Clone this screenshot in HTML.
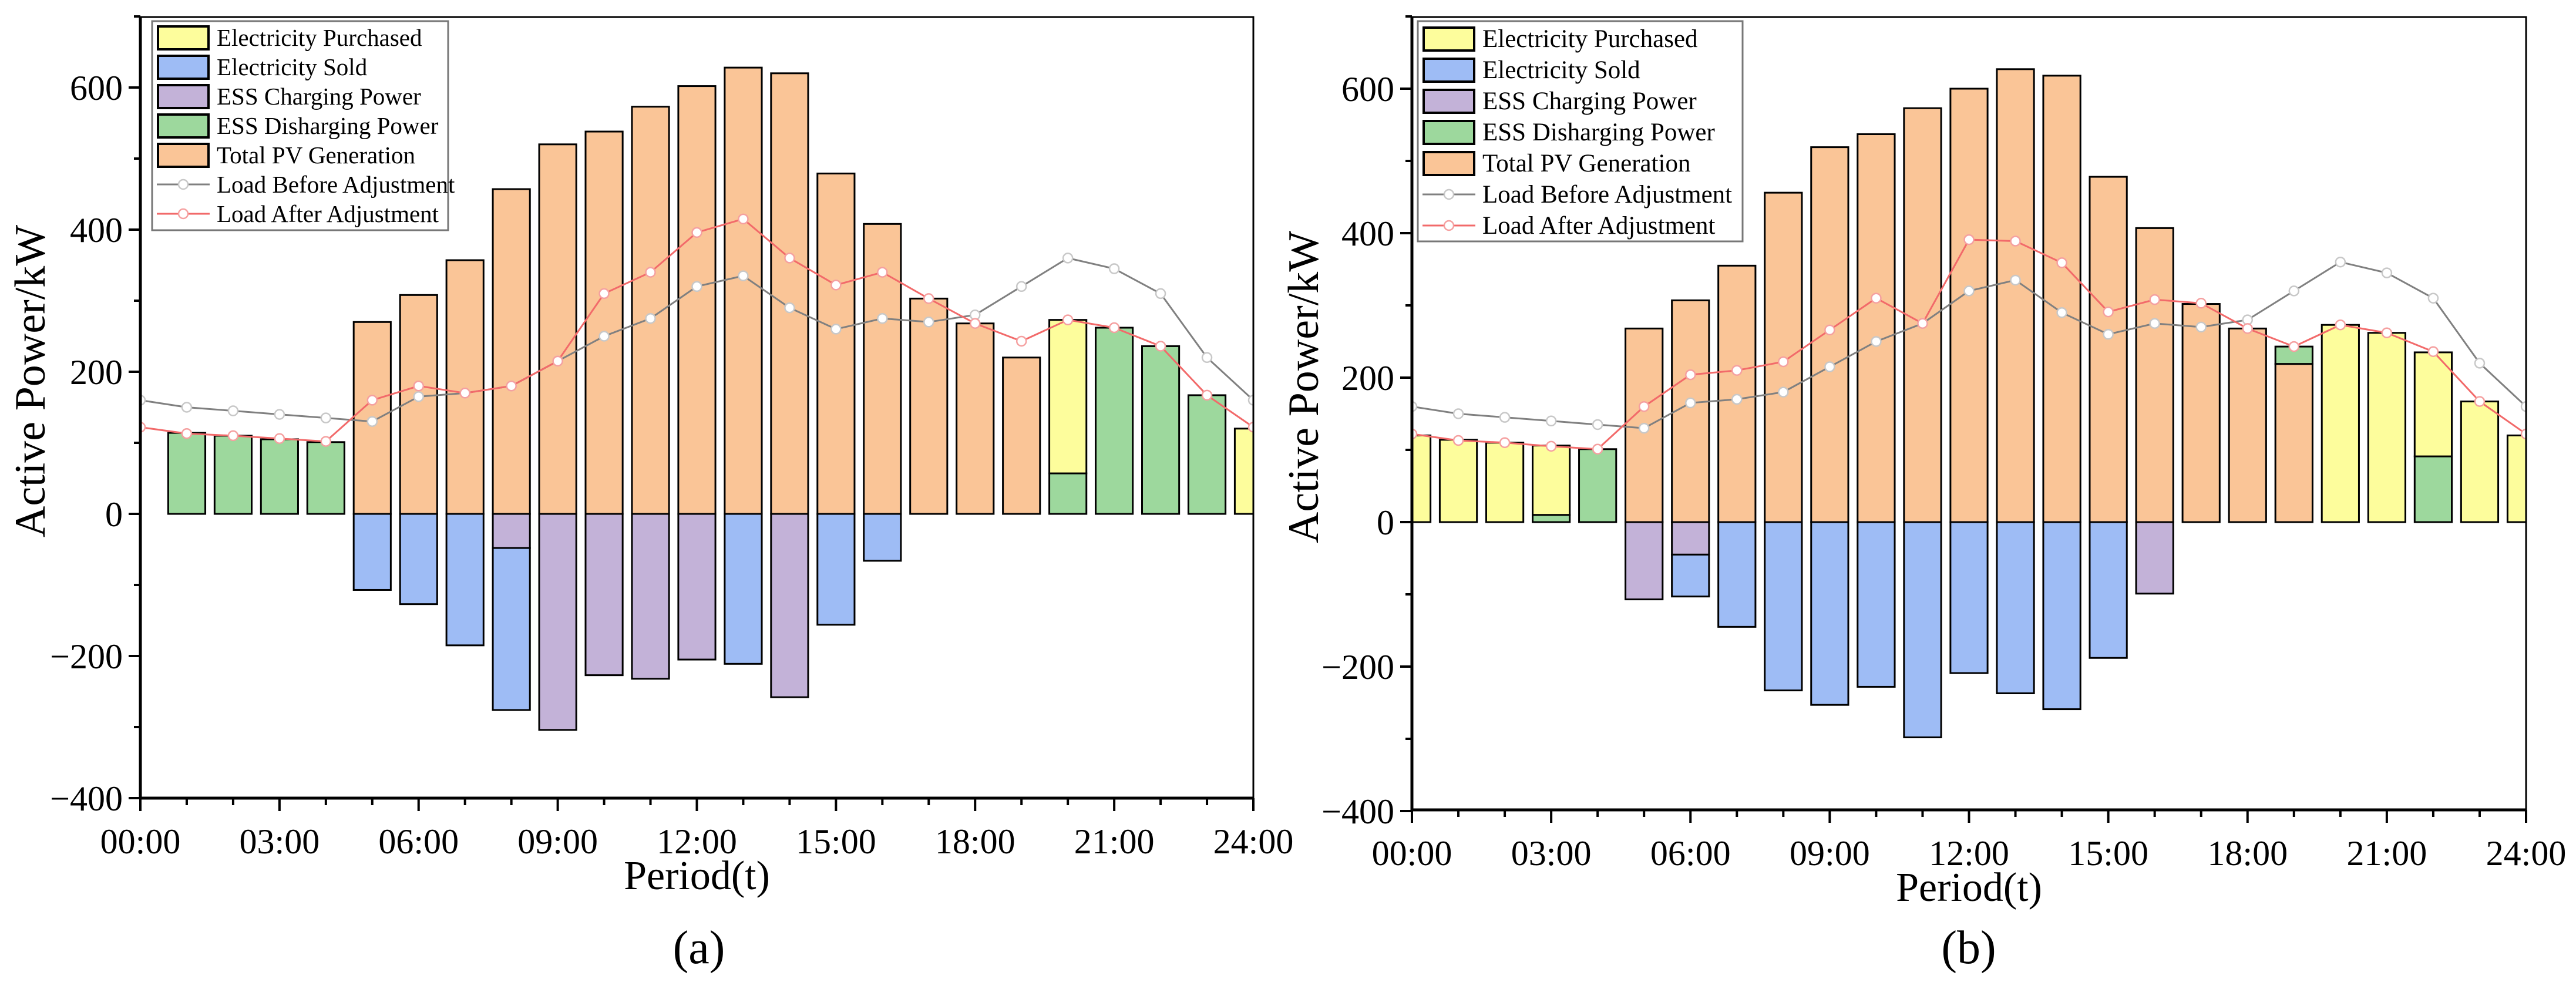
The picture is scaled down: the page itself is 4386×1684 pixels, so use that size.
<!DOCTYPE html>
<html><head><meta charset="utf-8"><style>
html,body{margin:0;padding:0;background:#fff;}
svg{display:block;font-family:"Liberation Serif",serif;}
</style></head><body>
<svg id="fig" width="4386" height="1684" viewBox="0 0 4386 1684" xmlns="http://www.w3.org/2000/svg"></svg>
<script>
// ---- shared data ----
const hours = [0,1,2,3,4,5,6,7,8,9,10,11,12,13,14,15,16,17,18,19,20,21,22,23,24];
const xTickLabels = ["00:00","03:00","06:00","09:00","12:00","15:00","18:00","21:00","24:00"];
const yTickValues = [-400,-200,0,200,400,600];
const loadBefore = [160,150,145,140,135,130,165,170,180,215,250,275,320,335,290,260,275,270,280,320,360,345,310,220,160];

// ---- chart (a) data ----
const aPV        = [0,0,0,0,0,270,308,357,457,520,538,573,602,628,620,479,408,303,268,220,0,0,0,0,0];
const aDischarge = [0,114,110,105,101,0,0,0,0,0,0,0,0,0,0,0,0,0,0,0,57,262,236,167,0];
const aPurchased = [0,0,0,0,0,0,0,0,0,0,0,0,0,0,0,0,0,0,0,0,216,0,0,0,120];
const aCharge    = [0,0,0,0,0,0,0,0,-48,-304,-227,-232,-205,0,-258,0,0,0,0,0,0,0,0,0,0];
const aSold      = [0,0,0,0,0,-107,-127,-185,-228,0,0,0,0,-211,0,-156,-66,0,0,0,0,0,0,0,0];
const aLoadAfter = [122,113,110,106,102,160,180,170,180,215,310,340,396,415,360,322,340,303,268,243,273,262,236,167,122];

// ---- chart (b) data ----
const bPV        = [0,0,0,0,0,268,307,355,456,519,537,573,600,627,618,478,407,302,268,219,0,0,0,0,0];
const bDischarge = [0,0,0,10,101,0,0,0,0,0,0,0,0,0,0,0,0,0,0,24,0,0,91,0,0];
const bPurchased = [120,114,110,96,0,0,0,0,0,0,0,0,0,0,0,0,0,0,0,0,273,262,144,167,120];
const bCharge    = [0,0,0,0,0,-107,-45,0,0,0,0,0,0,0,0,0,-99,0,0,0,0,0,0,0,0];
const bSold      = [0,0,0,0,0,0,-58,-145,-233,-253,-228,-298,-209,-237,-259,-188,0,0,0,0,0,0,0,0,0];
const bLoadAfter = [122,113,110,105,101,160,204,210,222,266,310,275,391,389,359,291,308,303,268,243,273,262,236,167,122];

const legendLabels = ["Electricity Purchased","Electricity Sold","ESS Charging Power","ESS Disharging Power","Total PV Generation","Load Before Adjustment","Load After Adjustment"];
const C = {pur:"#fdfd9c",sold:"#9ebcf5",chg:"#c3b2d8",dis:"#9dd89d",pv:"#fac597",gray:"#808080",red:"#f26a6a"};

const NS="http://www.w3.org/2000/svg";
const svg=document.getElementById('fig');
function mk(tag,attrs,parent){const e=document.createElementNS(NS,tag);for(const k in attrs)e.setAttribute(k,attrs[k]);(parent||svg).appendChild(e);return e;}

function drawChart(id,box,d){
  const g=mk('g',{});
  
  
  const X=h=>box.x0+(h/24)*(box.x1-box.x0);
  const Y=v=>box.zero-v*box.k;
  const step=(box.x1-box.x0)/24, bw=step*0.8;
  const cp=mk('clipPath',{id:'clip'+id},g);
  mk('rect',{x:box.x0,y:box.y0,width:box.x1-box.x0,height:box.y1-box.y0},cp);
  const bars=mk('g',{'clip-path':'url(#clip'+id+')'},g);
  
  
  function bar(h,v0,v1,fill,name){
    if(v1===v0)return;
    const r=mk('rect',{x:X(h)-bw/2,y:Math.min(Y(v0),Y(v1)),width:bw,height:Math.abs(Y(v1)-Y(v0)),fill:fill,stroke:'#000','stroke-width':3},bars);
    
    
  }
  hours.forEach((h,i)=>{
    if(h===0 && !d.hasZero)return;
    let b=0;
    bar(h,b,b+d.pv[i],C.pv,'pv');b+=d.pv[i];
    bar(h,b,b+d.dis[i],C.dis,'discharge');b+=d.dis[i];
    bar(h,b,b+d.pur[i],C.pur,'purchased');
    let n=0;
    bar(h,n,n+d.chg[i],C.chg,'charge');n+=d.chg[i];
    bar(h,n,n+d.sold[i],C.sold,'sold');
  });
  function line(vals,color,name){
    const pts=hours.map((h,i)=>X(h)+','+Y(vals[i])).join(' ');
    const l=mk('polyline',{points:pts,fill:'none',stroke:color,'stroke-width':3},bars);
    
    
    hours.forEach((h,i)=>{
      const c=mk('circle',{cx:X(h),cy:Y(vals[i]),r:8,fill:'#fff',stroke:color==C.red?'#f5a0a0':'#c8c8c8','stroke-width':2.5},bars);
      
      
    });
  }
  line(loadBefore,C.gray,'load-before-line');
  line(d.after,C.red,'load-after-line');
  // frame
  mk('rect',{x:box.x0,y:box.y0,width:box.x1-box.x0,height:box.y1-box.y0,fill:'none',stroke:'#000','stroke-width':3},g);
  mk('line',{x1:box.x0,y1:box.y0,x2:box.x0,y2:box.y1,stroke:'#000','stroke-width':5},g);
  mk('line',{x1:box.x0,y1:box.y1,x2:box.x1,y2:box.y1,stroke:'#000','stroke-width':5},g);
  // y ticks
  for(let v=-400;v<=700;v+=100){
    const major=yTickValues.includes(v);
    mk('line',{x1:box.x0-(major?20:11),y1:Y(v),x2:box.x0,y2:Y(v),stroke:'#000','stroke-width':4},g);
  }
  yTickValues.forEach(v=>{
    const t=mk('text',{x:box.x0-30,y:Y(v)+21,'font-size':60,'text-anchor':'end',fill:'#000'},g);
    t.textContent=(v<0?'\u2212':'')+Math.abs(v);
    
    
  });
  // x ticks
  hours.forEach(h=>{
    const major=h%3===0;
    mk('line',{x1:X(h),y1:box.y1,x2:X(h),y2:box.y1+(major?22:12),stroke:'#000','stroke-width':4},g);
  });
  xTickLabels.forEach((s,i)=>{
    const t=mk('text',{x:X(i*3),y:box.y1+94,'font-size':60,'text-anchor':'middle',fill:'#000'},g);
    t.textContent=s;
    
    
  });
  const xt=mk('text',{x:(box.x0+box.x1)/2,y:box.y1+155,'font-size':70,'text-anchor':'middle'},g);
  xt.textContent='Period(t)';
  
  
  const yt=mk('text',{x:0,y:0,'font-size':74,'text-anchor':'middle',transform:'translate('+box.ytx+','+((box.y0+box.y1)/2-45)+') rotate(-90)'},g);
  yt.textContent='Active Power/kW';
  
  
  const cap=mk('text',{x:box.capx,y:1640,'font-size':80,'text-anchor':'middle'},g);
  cap.textContent=box.cap;
  
  
  // legend
  const L=box.leg;
  const lg=mk('g',{},g);
  
  
  mk('rect',{x:L.x,y:L.y,width:L.w,height:L.h,fill:'#fff',stroke:'#777','stroke-width':3},lg);
  const fills=[C.pur,C.sold,C.chg,C.dis,C.pv];
  legendLabels.forEach((s,i)=>{
    const cy=L.y+L.first+i*L.dy;
    if(i<5){
      mk('rect',{x:L.x+10,y:cy-19,width:86,height:39,fill:fills[i],stroke:'#000','stroke-width':4},lg);
    }else{
      const col=i==5?C.gray:C.red;
      mk('line',{x1:L.x+8,y1:cy,x2:L.x+98,y2:cy,stroke:col,'stroke-width':3},lg);
      mk('circle',{cx:L.x+53,cy:cy,r:8,fill:'#fff',stroke:i==5?'#c8c8c8':'#f5a0a0','stroke-width':2.5},lg);
    }
    const t=mk('text',{x:L.x+110,y:cy+14,'font-size':L.fs,fill:'#000'},lg);
    t.textContent=s;
    
    
  });
}

drawChart('a',{x0:239,x1:2134,y0:29,y1:1359,zero:875,k:242/200,ytx:76,capx:1190,cap:'(a)',
  leg:{x:259,y:36,w:504,h:356,first:28,dy:50,fs:41}},
  {pv:aPV,dis:aDischarge,pur:aPurchased,chg:aCharge,sold:aSold,after:aLoadAfter,hasZero:false});
drawChart('b',{x0:2404,x1:4301,y0:29,y1:1379,zero:889,k:246/200,ytx:2244,capx:3352,cap:'(b)',
  leg:{x:2414,y:36,w:553,h:375,first:30,dy:53,fs:43}},
  {pv:bPV,dis:bDischarge,pur:bPurchased,chg:bCharge,sold:bSold,after:bLoadAfter,hasZero:true});
</script>
</body></html>
